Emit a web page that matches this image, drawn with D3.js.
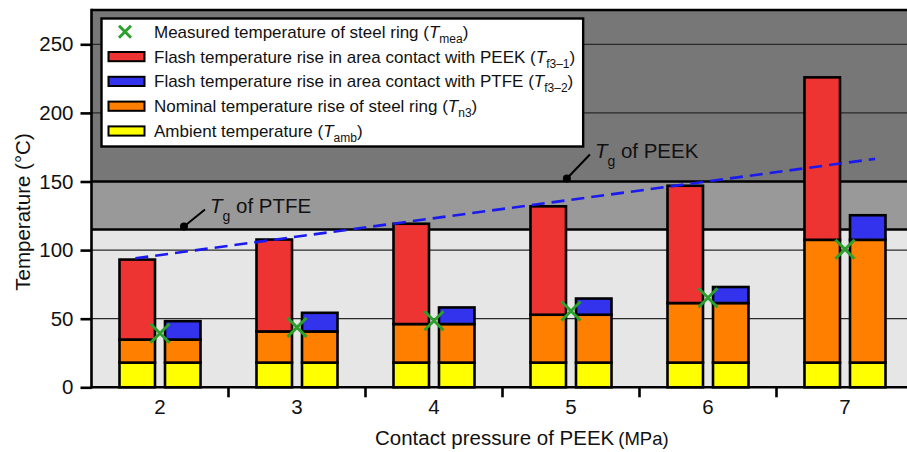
<!DOCTYPE html>
<html>
<head>
<meta charset="utf-8">
<script src="https://cdn.jsdelivr.net/npm/d3@7/dist/d3.min.js"></script>
<style>
  html, body { margin: 0; padding: 0; background: #fff; }
  svg { display: block; font-family: "Liberation Sans", Arial, sans-serif; }
</style>
</head>
<body>
<svg id="chart" width="907" height="452"></svg>
<script>
// Contact pressure of PEEK (MPa)
const pressures = ["2", "3", "4", "5", "6", "7"];
// Stacked components (°C)
const ambient = [18, 18, 18, 18, 18, 18];                  // T_amb
const nominalRise = [16.8, 22.7, 28.1, 34.9, 43.4, 89.5];  // T_n3
const flashPEEK = [58.3, 67.0, 73.1, 79.0, 85.5, 118.4];   // T_f3-1
const flashPTFE = [13.4, 13.6, 12.1, 11.8, 11.7, 17.9];    // T_f3-2
const measured = [39.4, 43.7, 48.5, 55.6, 65.3, 100.6];    // T_mea
// Glass transition temperatures
const tgPTFE = 115;
const tgPEEK = 150;
// Dashed trend of the PEEK contact peak temperature
const trendP = [1.82, 7.22];
const trendT = [94, 166.5];
const yTicks = [0, 50, 100, 150, 200, 250];

const colors = {
  amb: "#ffff00", n3: "#ff7f00", f31: "#ee3333", f32: "#3333ee",
  mea: "#2ca02c", light: "#e6e6e6", mid: "#999999", dark: "#777777"
};

const svg = d3.select("#chart");
const pLeft = 91.5, pRight = 913.5, pTop = 10, pBottom = 387.3;

const y = d3.scaleLinear().domain([0, 275]).range([pBottom, pTop]);
const x = d3.scaleBand().domain(pressures).range([pLeft, pRight]).padding(0);
const xp = d3.scaleLinear().domain([1.5, 7.5]).range([pLeft, pRight]);
const sub = d3.scaleBand().domain(["peek", "ptfe"]).range([0, x.bandwidth()])
  .paddingInner(0.22).paddingOuter(0.615);

// background zones
const zones = [
  { from: 0, to: tgPTFE, fill: colors.light },
  { from: tgPTFE, to: tgPEEK, fill: colors.mid },
  { from: tgPEEK, to: 275, fill: colors.dark }
];
svg.append("g").selectAll("rect").data(zones).join("rect")
  .attr("x", pLeft).attr("width", pRight - pLeft)
  .attr("y", d => y(d.to)).attr("height", d => y(d.from) - y(d.to))
  .attr("fill", d => d.fill);

// grid lines
svg.append("g").selectAll("line").data([50, 100, 200, 250]).join("line")
  .attr("x1", pLeft).attr("x2", pRight)
  .attr("y1", d => y(d)).attr("y2", d => y(d))
  .attr("stroke", "#2a2a2a").attr("stroke-width", 1.2);

// Tg boundaries
svg.append("g").selectAll("line").data([tgPTFE, tgPEEK]).join("line")
  .attr("x1", pLeft).attr("x2", pRight)
  .attr("y1", d => y(d)).attr("y2", d => y(d))
  .attr("stroke", "#000").attr("stroke-width", 2.6);

// stacked bars
const bars = svg.append("g").attr("stroke", "#000").attr("stroke-width", 2.6);
pressures.forEach((p, i) => {
  const a = ambient[i], n = a + nominalRise[i];
  const segs = [
    { k: "peek", lo: 0, hi: a, c: colors.amb },
    { k: "peek", lo: a, hi: n, c: colors.n3 },
    { k: "peek", lo: n, hi: n + flashPEEK[i], c: colors.f31 },
    { k: "ptfe", lo: 0, hi: a, c: colors.amb },
    { k: "ptfe", lo: a, hi: n, c: colors.n3 },
    { k: "ptfe", lo: n, hi: n + flashPTFE[i], c: colors.f32 }
  ];
  bars.append("g").selectAll("rect").data(segs).join("rect")
    .attr("x", d => x(p) + sub(d.k))
    .attr("width", sub.bandwidth())
    .attr("y", d => y(d.hi))
    .attr("height", d => y(d.lo) - y(d.hi))
    .attr("fill", d => d.c);
});

// trend line
svg.append("path")
  .datum(trendP.map((p, i) => [p, trendT[i]]))
  .attr("d", d3.line().x(d => xp(d[0])).y(d => y(d[1])))
  .attr("fill", "none").attr("stroke", "#1a1aee")
  .attr("stroke-width", 2.6).attr("stroke-dasharray", "13,7");

// measured markers
const cross = (g, cx, cy, r) => {
  g.append("path")
    .attr("d", `M${cx - r},${cy - r}L${cx + r},${cy + r}M${cx - r},${cy + r}L${cx + r},${cy - r}`)
    .attr("stroke", colors.mea).attr("stroke-width", 3).attr("fill", "none");
};
const marks = svg.append("g");
pressures.forEach((p, i) => cross(marks, x(p) + x.bandwidth() / 2, y(measured[i]), 9.5));

// plot frame: top, left, bottom
svg.append("line").attr("x1", pLeft).attr("x2", pRight).attr("y1", pTop).attr("y2", pTop)
  .attr("stroke", "#000").attr("stroke-width", 2.6);
svg.append("line").attr("x1", pLeft).attr("x2", pLeft).attr("y1", pTop - 1.3).attr("y2", pBottom + 1.3)
  .attr("stroke", "#000").attr("stroke-width", 2.6);
svg.append("line").attr("x1", pLeft - 1.3).attr("x2", pRight).attr("y1", pBottom).attr("y2", pBottom)
  .attr("stroke", "#000").attr("stroke-width", 2.6);

// y axis
const yAxis = svg.append("g").attr("transform", `translate(${pLeft},0)`)
  .call(d3.axisLeft(y).tickValues(yTicks).tickSize(11).tickPadding(7).tickSizeOuter(0));
yAxis.select(".domain").remove();
yAxis.selectAll(".tick line").attr("stroke", "#000").attr("stroke-width", 2.6);
yAxis.selectAll(".tick text").attr("font-size", 20.5).attr("fill", "#111")
  .attr("font-family", "Liberation Sans, Arial, sans-serif");

// x axis labels and boundary ticks
const xAxis = svg.append("g").attr("transform", `translate(0,${pBottom})`)
  .call(d3.axisBottom(x).tickSize(0).tickPadding(12));
xAxis.select(".domain").remove();
xAxis.selectAll(".tick text").attr("font-size", 20.5).attr("fill", "#111")
  .attr("font-family", "Liberation Sans, Arial, sans-serif");
svg.append("g").selectAll("line").data(pressures.slice(1)).join("line")
  .attr("x1", d => x(d)).attr("x2", d => x(d))
  .attr("y1", pBottom).attr("y2", pBottom + 10)
  .attr("stroke", "#000").attr("stroke-width", 2.6);

// axis titles
svg.append("text")
  .attr("transform", "translate(30,212) rotate(-90)")
  .attr("text-anchor", "middle").attr("font-size", 20.5).attr("fill", "#111")
  .text("Temperature (°C)");
const xt = svg.append("text").attr("x", 375).attr("y", 445)
  .attr("font-size", 20.5).attr("fill", "#111");
xt.append("tspan").text("Contact pressure of PEEK");
xt.append("tspan").attr("font-size", 18.5).attr("dx", 4).text("(MPa)");

// Tg annotations
function tgLabel(px, val, dx, dy, name) {
  const cx = xp(px), cy = y(val) - 3;
  svg.append("line").attr("x1", cx).attr("y1", cy).attr("x2", cx + dx).attr("y2", cy + dy)
    .attr("stroke", "#000").attr("stroke-width", 2);
  svg.append("circle").attr("cx", cx).attr("cy", cy).attr("r", 4).attr("fill", "#000");
  const t = svg.append("text").attr("x", cx + dx + 5).attr("y", cy + dy + 3)
    .attr("font-size", 20.5).attr("fill", "#111");
  t.append("tspan").attr("font-style", "italic").text("T");
  t.append("tspan").attr("font-size", 14).attr("dy", 8).text("g");
  t.append("tspan").attr("dy", -8).text(" of " + name);
}
tgLabel(2.175, tgPTFE, 21, -17, "PTFE");
tgLabel(4.97, tgPEEK, 23, -24, "PEEK");

// legend
const legendItems = [
  { type: "cross", text: "Measured temperature of steel ring (", s: "mea" },
  { type: "rect", c: colors.f31, text: "Flash temperature rise in area contact with PEEK (", s: "f3\u20131" },
  { type: "rect", c: colors.f32, text: "Flash temperature rise in area contact with PTFE (", s: "f3\u20132" },
  { type: "rect", c: colors.n3, text: "Nominal temperature rise of steel ring (", s: "n3" },
  { type: "rect", c: colors.amb, text: "Ambient temperature (", s: "amb" }
];
const lg = svg.append("g").attr("transform", "translate(101.5,18.5)");
const lgBox = lg.append("rect").attr("fill", "#fff").attr("stroke", "#000").attr("stroke-width", 2.4);
let maxW = 0;
legendItems.forEach((d, i) => {
  const cy = 13.3 + i * 24.8;
  if (d.type === "cross") {
    cross(lg, 23.5, cy, 6);
  } else {
    lg.append("rect").attr("x", 7).attr("y", cy - 4.6).attr("width", 36).attr("height", 9.2)
      .attr("fill", d.c).attr("stroke", "#000").attr("stroke-width", 2);
  }
  const t = lg.append("text").attr("x", 52.5).attr("y", cy + 6).attr("font-size", 17).attr("fill", "#111");
  t.append("tspan").text(d.text);
  t.append("tspan").attr("font-style", "italic").text("T");
  t.append("tspan").attr("font-size", 12).attr("dy", 5).text(d.s);
  t.append("tspan").attr("dy", -5).text(")");
  maxW = Math.max(maxW, 52.5 + t.node().getComputedTextLength());
});
lgBox.attr("x", 0).attr("y", 0).attr("width", maxW + 8).attr("height", 128);
</script>
</body>
</html>
